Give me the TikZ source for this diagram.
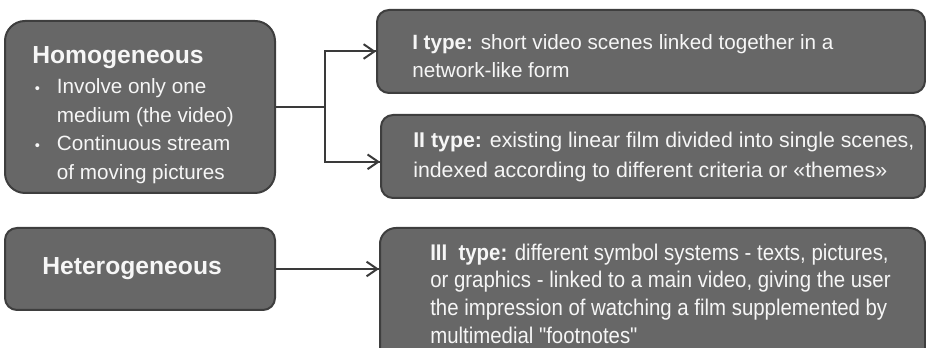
\documentclass[tikz,border=0pt]{standalone}
\usepackage{fontspec}
\setmainfont{Liberation Sans}
\newfontfamily\narrowsans{Liberation Sans}[FakeStretch=0.9]
\usepackage{tikz}
\usetikzlibrary{arrows.meta}
\usetikzlibrary{decorations.markings}
\usetikzlibrary{positioning}
\definecolor{boxfill}{RGB}{103,103,103}
\definecolor{boxline}{RGB}{62,62,62}
\definecolor{boxtext}{RGB}{246,246,246}
\definecolor{wiregray}{RGB}{58,58,58}
\tikzset{->/.style = {decoration={markings,
                                  mark=at position 1 with {\arrow{Straight Barb[length=8pt,width=11pt]}}},
                      postaction={decorate}}}
\tikzset{box/.style = {draw=boxline, fill=boxfill, line width=1.5pt, rounded corners=9pt, inner sep=0}}
\tikzset{txt/.style = {text=boxtext, align=left, inner sep=0, anchor=north west}}
\tikzset{wire/.style = {draw=wiregray, line width=1.5pt}}
\newcommand{\bul}{\hspace{2pt}\makebox[16.5pt][l]{\raisebox{0.5pt}{\fontsize{11}{11}\selectfont\textbullet}}}

\begin{document}
\begin{tikzpicture}[x=0.75pt, y=-0.75pt]
          \useasboundingbox (0,0) rectangle (926,348);
          \node [box, rounded corners=15pt, minimum width=202.5pt, minimum height=129pt] (hom) at (140,107) {};
          \node [box, minimum width=202.5pt, minimum height=61.5pt] (het) at (140,269) {};
          \node [box, minimum width=411pt, minimum height=62.25pt] (typeI) at (651,51.5) {};
          \node [box, minimum width=408pt, minimum height=62.25pt] (typeII) at (653,156.5) {};
          \node [box, rounded corners=12pt, minimum width=408.75pt, minimum height=103.5pt] (typeIII) at (652.5,297) {};
          \node [txt, font=\fontsize{15.5}{21.4}\selectfont] (homtext) at (32,46)
                {{\fontsize{18.5}{22}\selectfont\bfseries Homogeneous}\\[1.5pt]
                 \bul Involve only one\\
                 \hspace{18.5pt}medium (the video)\\
                 \bul Continuous stream\\
                 \hspace{18.5pt}of moving pictures};
          \node [txt, anchor=west, font=\fontsize{18.5}{22}\selectfont\bfseries] (hettext) at (42,269) {Heterogeneous};
          \node [txt, font=\fontsize{15.5}{21}\selectfont] (typeItext) at (412,34.5)
                {{\bfseries I type:} short video scenes linked together in a\\
                 network-like form};
          \node [txt, font=\fontsize{16}{22.5}\selectfont] (typeIItext) at (413,132)
                {{\bfseries II type:} existing linear film divided into single scenes,\\
                 indexed according to different criteria or «themes»};
          \node [txt, font=\narrowsans\fontsize{17}{20.8}\selectfont] (typeIIItext) at (430,243.5)
                {{\bfseries III\ \ type:} different symbol systems - texts, pictures,\\
                 or graphics - linked to a main video, giving the user\\
                 the impression of watching a film supplemented by\\
                 multimedial "footnotes"};
          \coordinate (split) at (325,107);
          \draw [wire] (hom.east) -- (split);
          \draw [wire, ->] (split) |- (typeI.west);
          \draw [wire, ->] (split) |- ([yshift=-4pt]typeII.west);
          \draw [wire, ->] (het.east) -- (typeIII.west |- het.east);
        \end{tikzpicture}
\end{document}
